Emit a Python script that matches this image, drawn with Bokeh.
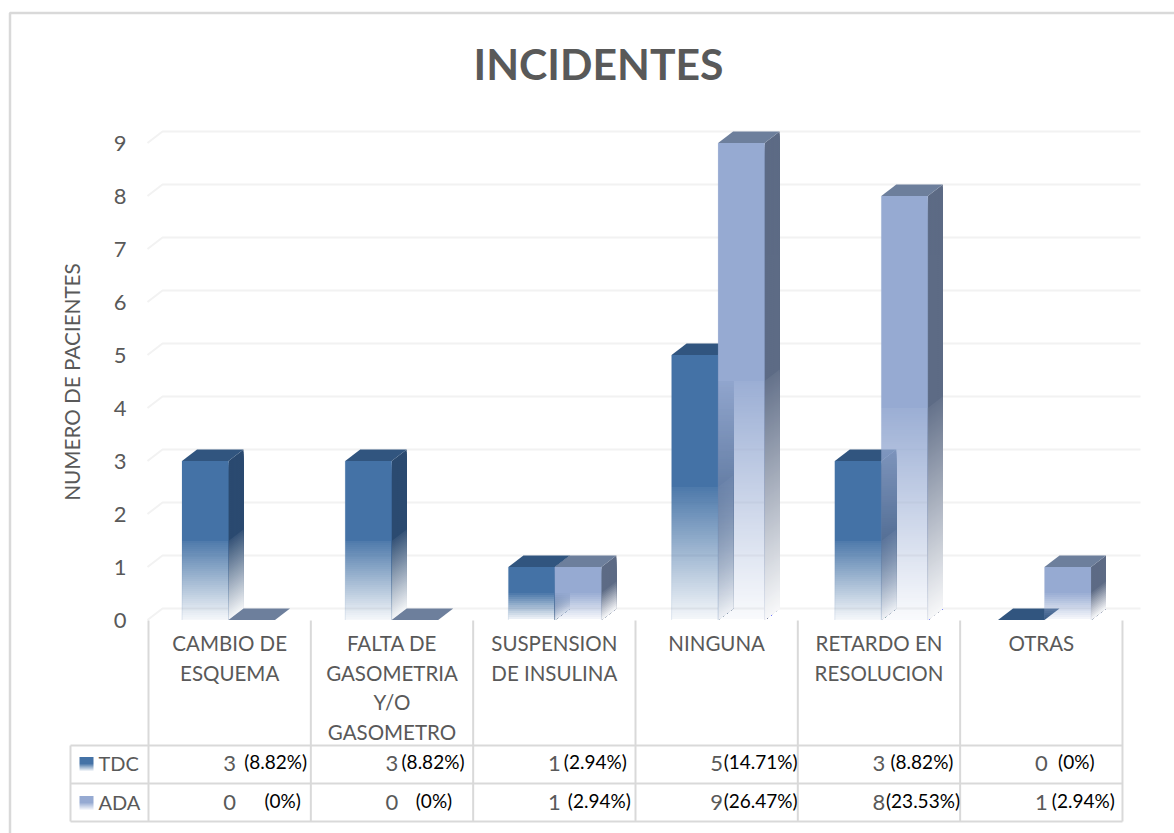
from bokeh.embed import file_html
from bokeh.models import FixedTicker, LinearAxis, Range1d
from bokeh.plotting import figure
from bokeh.resources import INLINE
from bokeh.core.properties import value

# Chart content
title = "INCIDENTES"
y_label = "NUMERO DE PACIENTES"
categories = [
    ["CAMBIO DE", "ESQUEMA"],
    ["FALTA DE", "GASOMETRIA", "Y/O", "GASOMETRO"],
    ["SUSPENSION", "DE INSULINA"],
    ["NINGUNA"],
    ["RETARDO EN", "RESOLUCION"],
    ["OTRAS"],
]
tdc = [3, 3, 1, 5, 3, 0]
ada = [0, 0, 1, 9, 8, 1]
tdc_pct = ["(8.82%)", "(8.82%)", "(2.94%)", "(14.71%)", "(8.82%)", "(0%)"]
ada_pct = ["(0%)", "(0%)", "(2.94%)", "(26.47%)", "(23.53%)", "(2.94%)"]

# Offsets of the percentage labels from the centre of their cell, in pixels
tdc_pct_dx = [46, 41, 41, 44, 43, 35]
ada_pct_dx = [53, 42, 45, 44, 44, 42]

# Scale of the drawing
W, H = 1174, 833
UX, UY = 163.2, 53.0      # pixels per category, pixels per patient
X0, Y0 = 146.4, 619.5     # position of data (0, 0); half-pixel so strips land on pixel rows
BAR = 46.5 / UX
DX, DY = 15 / UX, 11.5 / UY

FONT = "Lato"
GREY = "#595959"
RULE = "#D9D9D9"
GRID = "#F2F2F2"
TDC_COL = dict(front="#4472A6", side="#2B4A70", top="#31557F")
ADA_COL = dict(front="#96AAD2", side="#5D6B85", top="#6D7F9C")


def x_at(px):
    return (px - X0) / UX


def y_at(py):
    return (Y0 - py) / UY


def fade(t):
    """Opacity down a bar: t runs from 0 at the top to 1 at the base."""
    if t < 0.5:
        return 1.0
    return 0.95 - 0.90 * (t - 0.5) / 0.5


def on_white(col, a):
    rgb = [int(col[i:i + 2], 16) for i in (1, 3, 5)]
    return "#%02x%02x%02x" % tuple(round(c * a + 255 * (1 - a)) for c in rgb)


p = figure(width=W, height=H, output_backend="svg", toolbar_location=None,
           x_range=Range1d(x_at(0), x_at(W)), y_range=Range1d(y_at(H), y_at(0)),
           x_axis_type=None, y_axis_type=None, min_border=0,
           outline_line_color=None, background_fill_color="white")

# Chart area frame: left and top edges only reach the visible window
p.line([x_at(9.5), x_at(9.5), x_at(W + 5)], [y_at(H + 5), y_at(12.5), y_at(12.5)],
       line_color=RULE, line_width=2.5)

# Back wall gridlines with their slanted returns to the front
xs, ys = [], []
for v in range(10):
    xs.append([x_at(147), x_at(147) + DX, x_at(1140)])
    ys.append([v, v + DY, v + DY])
p.multi_line(xs, ys, line_color=GRID, line_width=2)


def draw_series(vals, offset, col):
    fx0, fx1, fy0, fy1, fa = [], [], [], [], []
    sx, sy, sc = [], [], []
    tx, ty = [], []
    ex, ey = [], []
    strip = 2 / UY
    for i, v in enumerate(vals):
        xl = i + 0.5 + offset
        xr = xl + BAR
        tx.append([xl, xr, xr + DX, xl + DX])
        ty.append([v, v, v + DY, v + DY])
        if v == 0:
            continue
        ex += [[xl, xl], [xr, xr]]
        ey += [[v, 0], [v, 0]]
        # Side face, overpainted from the top down
        k = 0
        while v - k * strip > 1e-9:
            hi = v - k * strip
            a = fade(1 - (hi - strip / 2) / v)
            sx.append([xr, xr + DX, xr + DX, xr])
            sy.append([hi, hi + DY, DY, 0])
            sc.append(on_white(col["side"], a))
            k += 1
        # Front face: one solid block, then whole-pixel translucent strips
        steps = round(v * UY / 2)
        solid = steps // 2
        fx0.append(xl)
        fx1.append(xr)
        fy0.append(v - solid * strip)
        fy1.append(v)
        fa.append(1.0)
        for k in range(solid, steps):
            hi = v - k * strip
            lo = max(0.0, hi - strip)
            fx0.append(xl)
            fx1.append(xr)
            fy0.append(lo)
            fy1.append(hi)
            fa.append(fade(1 - (hi + lo) / 2 / v))
    if sx:
        p.patches(sx, sy, fill_color=sc, line_color=None)
    if fx0:
        p.quad(left=fx0, right=fx1, bottom=fy0, top=fy1, fill_color=col["front"],
               fill_alpha=fa, line_color=None)
        p.multi_line(ex, ey, line_color=col["front"], line_alpha=0.15, line_width=1)
    p.patches(tx, ty, fill_color=col["top"], line_color=None)


draw_series(tdc, -BAR, TDC_COL)
draw_series(ada, 0, ADA_COL)

# Data table below the plot
edges = [x_at(148 + i * 162.33) for i in range(7)]
centres = [(edges[i] + edges[i + 1]) / 2 for i in range(6)]
vx = [[e, e] for e in edges]
vy = [[y_at(620), y_at(821)] for _ in edges]
vx.append([x_at(70), x_at(70)])
vy.append([y_at(745), y_at(821)])
for py in (745, 783, 821):
    vx.append([x_at(70), edges[-1]])
    vy.append([y_at(py), y_at(py)])
p.multi_line(vx, vy, line_color=RULE, line_width=2)

# Category names
lx, ly, lt, lo = [], [], [], []
for c, lines in zip(centres, categories):
    for n, s in enumerate(lines):
        lx.append(c)
        ly.append(0)
        lt.append(s)
        lo.append(23 + 29.5 * n)
p.text(lx, ly, lt, y_offset=lo, text_font=value(FONT), text_font_size="20.5px",
       text_color=GREY, text_align="center", text_baseline="middle")

# Table rows: legend key, series name, counts and percentages
for name, vals, pct, dxs, col, py in (
    ("TDC", tdc, tdc_pct, tdc_pct_dx, TDC_COL, 764),
    ("ADA", ada, ada_pct, ada_pct_dx, ADA_COL, 803),
):
    kx0, kx1, kb, kt, ka = [], [], [], [], []
    for k in range(14):
        kx0.append(x_at(79))
        kx1.append(x_at(93))
        kt.append(y_at(py - 7.5 + k))
        kb.append(y_at(py - 6.5 + k))
        ka.append(fade((k + 0.5) / 14))
    p.quad(left=kx0, right=kx1, bottom=kb, top=kt, fill_color=col["front"],
           fill_alpha=ka, line_color=None)
    p.text([x_at(98)], [y_at(py - 2)], [name], text_font=value(FONT), text_font_size="20px",
           text_color=GREY, text_align="left", text_baseline="middle")
    p.text(centres, [y_at(py - 1)] * 6, [str(v) for v in vals], text_font=value(FONT),
           text_font_size="22px", text_color=GREY, text_align="center",
           text_baseline="middle")
    p.text(centres, [y_at(py - 3)] * 6, pct, x_offset=dxs, text_font=value(FONT),
           text_font_size="19px", text_color="black", text_align="center",
           text_baseline="middle")

# Heading
p.text([x_at(598)], [y_at(63)], [title], text_font=value(FONT), text_font_size="42.7px",
       text_font_style="bold", text_color=GREY, text_align="center", text_baseline="middle")

# Value axis, fixed to the front left edge of the floor
axis = LinearAxis(fixed_location=x_at(148), ticker=FixedTicker(ticks=list(range(10))),
                  bounds=(0, 9),
                  axis_line_color=None, major_tick_line_color=None, minor_tick_line_color=None,
                  major_label_standoff=16, major_label_text_font=FONT,
                  major_label_text_font_size="22px", major_label_text_color=GREY,
                  axis_label=y_label, axis_label_text_font=FONT,
                  axis_label_text_font_size="20.7px", axis_label_text_color=GREY,
                  axis_label_text_font_style="normal", axis_label_standoff=27)
p.add_layout(axis, "left")

open("out.html", "w").write(file_html(p, INLINE))
